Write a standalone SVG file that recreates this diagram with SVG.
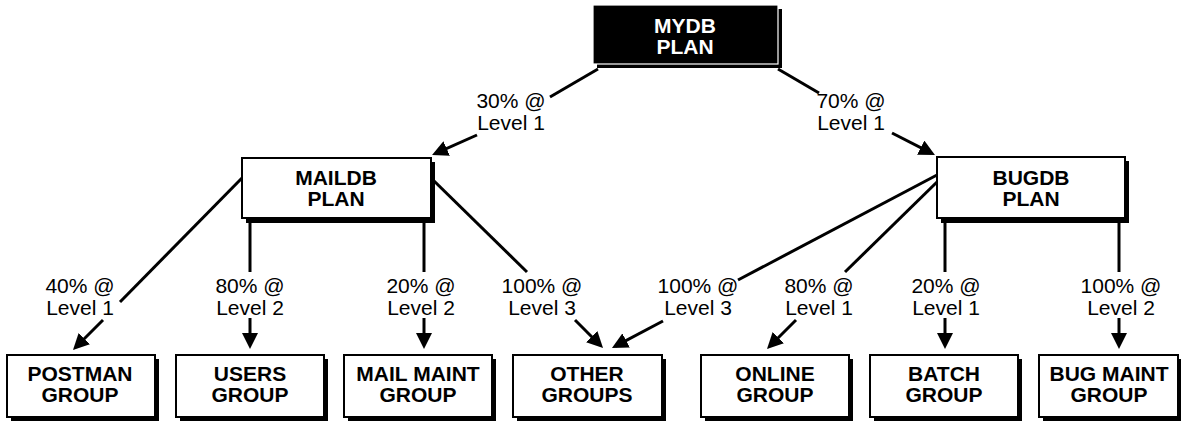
<svg xmlns="http://www.w3.org/2000/svg" width="1181" height="421" viewBox="0 0 1181 421">
<defs>
<style>
.box{fill:#fff;stroke:#000;stroke-width:2}
.sh{fill:#000}
.bt{font-family:"Liberation Sans",Arial,sans-serif;font-weight:bold;font-size:21px;text-anchor:middle;fill:#000}
.wt{fill:#fff}
.lb{font-family:"Liberation Sans",Arial,sans-serif;font-size:21px;text-anchor:middle;fill:#000}
.ln{stroke:#000;stroke-width:3;fill:none}
.ar{marker-end:url(#ah)}
</style>
<marker id="ah" viewBox="0 0 16 16" refX="12" refY="8" markerWidth="16" markerHeight="16" markerUnits="userSpaceOnUse" orient="auto">
<path d="M0,0 L16,8 L0,16 Z" fill="#000"/>
</marker>
</defs>
<rect width="1181" height="421" fill="#fff"/>

<g id="connectors">
<line class="ln" x1="598" y1="69" x2="550" y2="97"/>
<line class="ln ar" x1="477" y1="135" x2="435.7" y2="153.4"/>
<line class="ln" x1="778" y1="69" x2="819" y2="93"/>
<line class="ln ar" x1="892" y1="133" x2="931.4" y2="153.2"/>
<line class="ln" x1="242" y1="178" x2="120" y2="302"/>
<line class="ln ar" x1="103" y1="320" x2="75.8" y2="347.2"/>
<line class="ln" x1="250" y1="219" x2="250" y2="272"/>
<line class="ln ar" x1="250" y1="318" x2="250" y2="345"/>
<line class="ln" x1="424" y1="219" x2="424" y2="272"/>
<line class="ln ar" x1="424" y1="318" x2="424" y2="345"/>
<line class="ln" x1="431" y1="178" x2="527" y2="272"/>
<line class="ln ar" x1="575" y1="320" x2="600.2" y2="345.2"/>
<line class="ln" x1="937" y1="175" x2="738" y2="280"/>
<line class="ln ar" x1="663" y1="321" x2="615.5" y2="346.1"/>
<line class="ln" x1="937" y1="182" x2="845" y2="272"/>
<line class="ln ar" x1="796" y1="320" x2="769.8" y2="346.2"/>
<line class="ln" x1="945" y1="219" x2="945" y2="272"/>
<line class="ln ar" x1="945" y1="318" x2="945" y2="345"/>
<line class="ln" x1="1119" y1="219" x2="1119" y2="272"/>
<line class="ln ar" x1="1119" y1="318" x2="1119" y2="345"/>
<text class="lb" x="511" y="108">30% @</text><text class="lb" x="511" y="130">Level 1</text>
<text class="lb" x="851" y="108">70% @</text><text class="lb" x="851" y="130">Level 1</text>
<text class="lb" x="80" y="293">40% @</text><text class="lb" x="80" y="315">Level 1</text>
<text class="lb" x="250" y="293">80% @</text><text class="lb" x="250" y="315">Level 2</text>
<text class="lb" x="421" y="293">20% @</text><text class="lb" x="421" y="315">Level 2</text>
<text class="lb" x="542" y="293">100% @</text><text class="lb" x="542" y="315">Level 3</text>
<text class="lb" x="698" y="293">100% @</text><text class="lb" x="698" y="315">Level 3</text>
<text class="lb" x="819" y="293">80% @</text><text class="lb" x="819" y="315">Level 1</text>
<text class="lb" x="946" y="293">20% @</text><text class="lb" x="946" y="315">Level 1</text>
<text class="lb" x="1121" y="293">100% @</text><text class="lb" x="1121" y="315">Level 2</text>
</g>

<g id="mydb">
<rect class="sh" x="597" y="9" width="185" height="59"/>
<rect x="593" y="5" width="185" height="59" fill="#000" stroke="#fff" stroke-width="1.2"/>
<text class="bt wt" x="685" y="33">MYDB</text>
<text class="bt wt" x="685" y="54">PLAN</text>
</g>

<g id="maildb">
<rect class="sh" x="246" y="162" width="189" height="61"/>
<rect class="box" x="242" y="158" width="189" height="60"/>
<text class="bt" x="336" y="185">MAILDB</text><text class="bt" x="336" y="206">PLAN</text>
</g>

<g id="bugdb">
<rect class="sh" x="941" y="161" width="188" height="62"/>
<rect class="box" x="937" y="157" width="188" height="61"/>
<text class="bt" x="1031" y="185">BUGDB</text><text class="bt" x="1031" y="206">PLAN</text>
</g>

<g id="postman">
<rect class="sh" x="11" y="359" width="148" height="62"/>
<rect class="box" x="7" y="355" width="148" height="62"/>
<text class="bt" x="80" y="381">POSTMAN</text><text class="bt" x="80" y="402">GROUP</text>
</g>
<g id="users">
<rect class="sh" x="180" y="359" width="148" height="62"/>
<rect class="box" x="176" y="355" width="148" height="62"/>
<text class="bt" x="250" y="381">USERS</text><text class="bt" x="250" y="402">GROUP</text>
</g>
<g id="mailmaint">
<rect class="sh" x="348" y="359" width="148" height="62"/>
<rect class="box" x="344" y="355" width="148" height="62"/>
<text class="bt" x="418" y="381">MAIL MAINT</text><text class="bt" x="418" y="402">GROUP</text>
</g>
<g id="other">
<rect class="sh" x="517" y="359" width="149" height="62"/>
<rect class="box" x="513" y="355" width="149" height="62"/>
<text class="bt" x="587" y="381">OTHER</text><text class="bt" x="587" y="402">GROUPS</text>
</g>
<g id="online">
<rect class="sh" x="705" y="359" width="148" height="62"/>
<rect class="box" x="701" y="355" width="148" height="62"/>
<text class="bt" x="775" y="381">ONLINE</text><text class="bt" x="775" y="402">GROUP</text>
</g>
<g id="batch">
<rect class="sh" x="874" y="359" width="148" height="62"/>
<rect class="box" x="870" y="355" width="148" height="62"/>
<text class="bt" x="944" y="381">BATCH</text><text class="bt" x="944" y="402">GROUP</text>
</g>
<g id="bugmaint">
<rect class="sh" x="1043" y="359" width="140" height="62"/>
<rect class="box" x="1039" y="355" width="139" height="62"/>
<text class="bt" x="1109" y="381">BUG MAINT</text><text class="bt" x="1109" y="402">GROUP</text>
</g>
</svg>
